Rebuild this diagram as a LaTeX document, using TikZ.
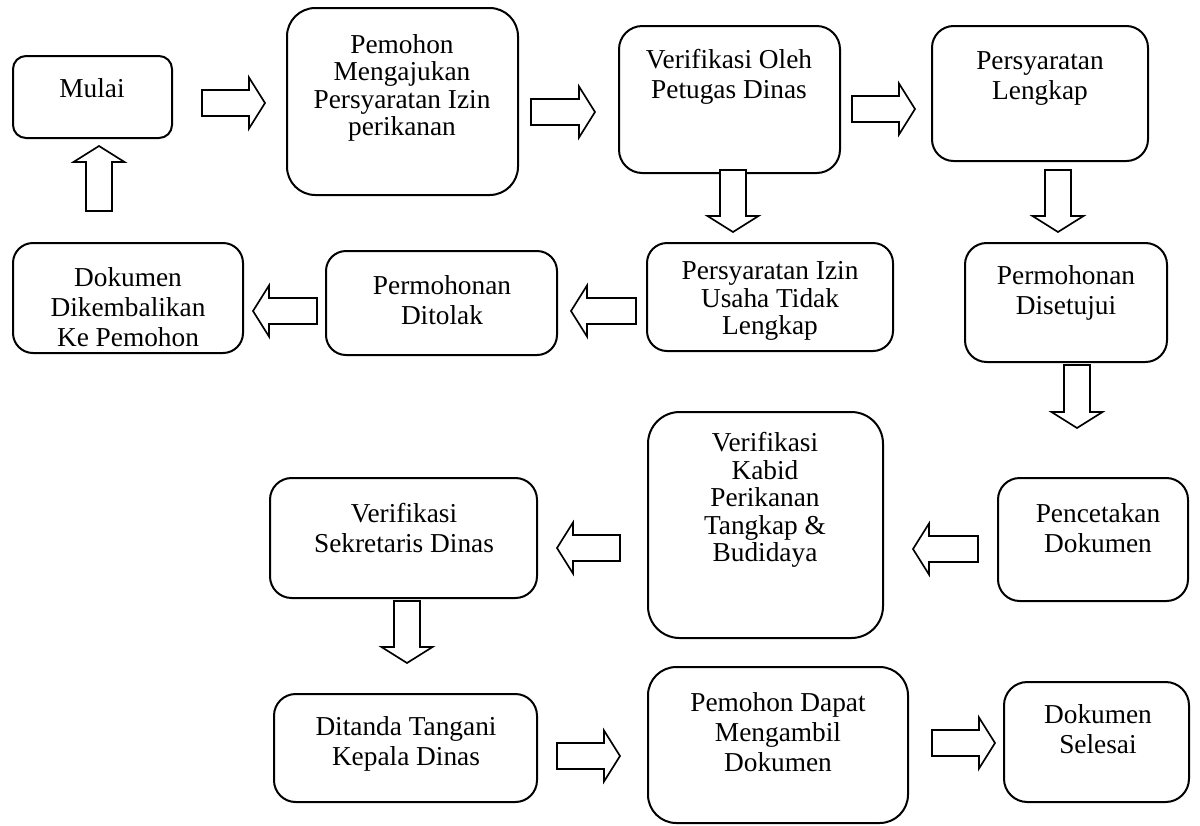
\documentclass[tikz,border=0pt]{standalone}
\usepackage{fontspec}
\setmainfont{Liberation Serif}
\usetikzlibrary{fit}
\tikzset{
  box/.style={draw, line width=1.2pt, inner sep=0pt, outer sep=0pt},
  txt/.style={align=center, inner sep=0pt, font=\fontsize{16.4}{18}\selectfont},
  tight/.style={font=\fontsize{16.4}{16.5}\selectfont},
  arr/.style={draw, line width=1pt, fill=white, line join=miter},
  pics/barrow/.style={code={\draw[arr] (0,-13) -- ({#1-16},-13) -- ({#1-16},-25.5) -- (#1,0) -- ({#1-16},25.5) -- ({#1-16},13) -- (0,13) -- cycle;}}
}
\begin{document}
\begin{tikzpicture}[x=0.6pt,y=-0.6pt]
\useasboundingbox (0,0) rectangle (1200,825);
% boxes
\node[box, rounded corners=7.8pt, fit={(13,56) (172,138)}] (mulai) {};
\node[box, rounded corners=17pt, fit={(287,8) (518,195)}] (pemohon) {};
\node[box, rounded corners=14pt, fit={(619,26) (840,173)}] (verif) {};
\node[box, rounded corners=13pt, fit={(932,26) (1148,161)}] (lengkap) {};
\node[box, rounded corners=12pt, fit={(647,243) (893,351)}] (tidak) {};
\node[box, rounded corners=12pt, fit={(326,251) (557,355)}] (ditolak) {};
\node[box, rounded corners=12pt, fit={(13,243) (243,353)}] (kembali) {};
\node[box, rounded corners=13pt, fit={(965,243) (1167,362)}] (setuju) {};
\node[box, rounded corners=13pt, fit={(998,478) (1188,601)}] (cetak) {};
\node[box, rounded corners=19pt, fit={(648,412) (883,638)}] (kabid) {};
\node[box, rounded corners=13pt, fit={(270,478) (537,598)}] (sekre) {};
\node[box, rounded corners=13pt, fit={(274,694) (537,802)}] (tanda) {};
\node[box, rounded corners=17pt, fit={(648,667) (908,823)}] (ambil) {};
\node[box, rounded corners=14pt, fit={(1004,682) (1189,802)}] (selesai) {};
% texts
\node[txt] (mulaiT) at (92,88) {Mulai};
\node[txt, tight] (pemohonT) at (402,88) {Pemohon\\Mengajukan\\Persyaratan Izin\\perikanan};
\node[txt] (verifT) at (729,77) {Verifikasi Oleh\\Petugas Dinas};
\node[txt] (lengkapT) at (1040,78) {Persyaratan\\Lengkap};
\node[txt, tight] (tidakT) at (770,301) {Persyaratan Izin\\Usaha Tidak\\Lengkap};
\node[txt] (ditolakT) at (442,300) {Permohonan\\Ditolak};
\node[txt] (kembaliT) at (128,307) {Dokumen\\Dikembalikan\\Ke Pemohon};
\node[txt] (setujuT) at (1066,293) {Permohonan\\Disetujui};
\node[txt] (cetakT) at (1098,528) {Pencetakan\\Dokumen};
\node[txt, tight] (kabidT) at (765,500) {Verifikasi\\Kabid\\Perikanan\\Tangkap \&\\Budidaya};
\node[txt] (sekreT) at (404,528) {Verifikasi\\Sekretaris Dinas};
\node[txt] (tandaT) at (406,744) {Ditanda Tangani\\Kepala Dinas};
\node[txt] (ambilT) at (778,732) {Pemohon Dapat\\Mengambil\\Dokumen};
\node[txt] (selesaiT) at (1098,729) {Dokumen\\Selesai};
% block arrows
\pic (a1) at (202,103) {barrow=63};
\pic (a2) at (531,112) {barrow=64};
\pic (a3) at (852,109) {barrow=63};
\pic[rotate=-90] (a4) at (733,170) {barrow=62};
\pic[rotate=-90] (a5) at (1058,170) {barrow=62};
\pic[rotate=180] (a6) at (636,311) {barrow=65};
\pic[rotate=180] (a7) at (317,311) {barrow=64};
\pic[rotate=-90] (a8) at (1077,365) {barrow=63};
\pic[rotate=180] (a9) at (978,549) {barrow=65};
\pic[rotate=180] (a10) at (620,548) {barrow=63};
\pic[rotate=-90] (a11) at (407,601) {barrow=62};
\pic (a12) at (557,756) {barrow=63};
\pic (a13) at (932,743) {barrow=63};
\pic[rotate=90] (a14) at (99,211) {barrow=65};
\end{tikzpicture}
\end{document}
